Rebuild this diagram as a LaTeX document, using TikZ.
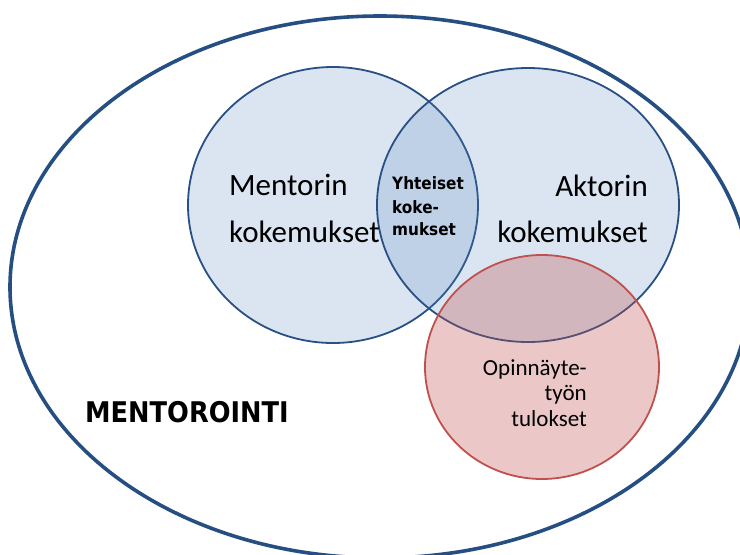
\documentclass[tikz,border=0pt]{standalone}
\usepackage{fontspec}
\usetikzlibrary{shapes.geometric}
\newfontfamily\calib{Carlito}
\newfontfamily\boldsans[FakeStretch=0.9]{DejaVu Sans}
\definecolor{frameblue}{RGB}{37,79,130}
\definecolor{ringblue}{RGB}{40,80,132}
\definecolor{softblue}{RGB}{79,129,189}
\definecolor{ringred}{RGB}{192,80,77}
\tikzset{
  oval/.style={ellipse, inner sep=0pt, outer sep=0pt},
  bluecircle/.style={oval, draw=ringblue, line width=1.8pt, fill=softblue, fill opacity=0.2, draw opacity=1},
  redcircle/.style={oval, draw=ringred, line width=1.8pt, fill=ringred, fill opacity=0.31, draw opacity=1},
  bigtext/.style={font=\calib\fontsize{31}{37}\selectfont, inner sep=0pt},
  midtext/.style={font=\calib\fontsize{23}{27}\selectfont, inner sep=0pt},
  heavytext/.style={font=\boldsans\bfseries\fontsize{17}{20}\selectfont, inner sep=0pt},
  titletext/.style={font=\boldsans\bfseries\fontsize{28.5}{32}\selectfont, inner sep=0pt}
}
\begin{document}
\begin{tikzpicture}[x=1pt, y=-1pt]
  \useasboundingbox (0,0) rectangle (740,555);
  \clip (0,0) rectangle (740,555);
  \fill[white] (0,0) rectangle (740,555);
  % outer field
  \node[oval, draw=frameblue, line width=3.6pt, minimum width=740pt, minimum height=542pt] (field) at (380,287) {};
  % experience circles
  \node[bluecircle, minimum width=290pt, minimum height=276pt] (mentor) at (333,205) {};
  \node[bluecircle, minimum width=302pt, minimum height=274pt] (actor) at (528,205) {};
  % results circle
  \node[redcircle, minimum width=234pt, minimum height=224pt] (results) at (542,367) {};
  % labels
  \node[bigtext, anchor=base west] (m1) at (229,195) {Mentorin};
  \node[bigtext, anchor=base west] (m2) at (229,242) {kokemukset};
  \node[bigtext, anchor=base east] (a1) at (648,196) {Aktorin};
  \node[bigtext, anchor=base east] (a2) at (648,242) {kokemukset};
  \node[heavytext, anchor=base west] (y1) at (392,189) {Yhteiset};
  \node[heavytext, anchor=base west] (y2) at (392,213) {koke-};
  \node[heavytext, anchor=base west] (y3) at (392,235) {mukset};
  \node[midtext, anchor=base east] (o1) at (587,375) {Opinnäyte-};
  \node[midtext, anchor=base east] (o2) at (587,400) {työn};
  \node[midtext, anchor=base east] (o3) at (587,426) {tulokset};
  \node[titletext, anchor=base west] (title) at (85,422) {MENTOROINTI};
\end{tikzpicture}
\end{document}
